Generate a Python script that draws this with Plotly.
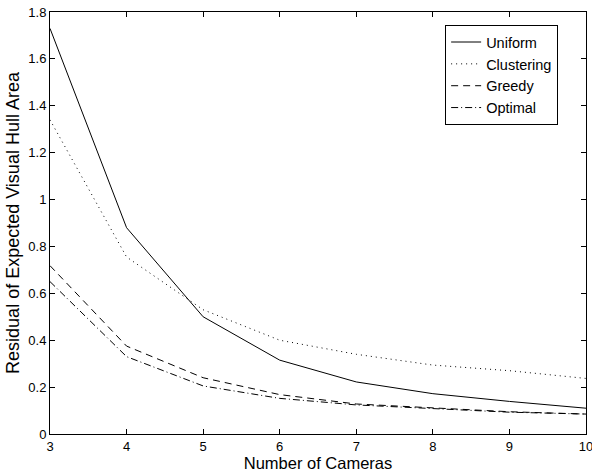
import plotly.graph_objects as go

cameras = [3, 4, 5, 6, 7, 8, 9, 10]
uniform = [1.73, 0.88, 0.50, 0.315, 0.222, 0.172, 0.139, 0.110]
clustering = [1.34, 0.755, 0.53, 0.40, 0.34, 0.294, 0.27, 0.237]
greedy = [0.718, 0.375, 0.24, 0.168, 0.128, 0.11, 0.095, 0.085]
optimal = [0.65, 0.33, 0.205, 0.152, 0.124, 0.107, 0.093, 0.085]

series = [
    ("Uniform", uniform, "solid"),
    ("Clustering", clustering, "1px,4px"),
    ("Greedy", greedy, "7px,5px"),
    ("Optimal", optimal, "7px,3px,1px,3px"),
]

fig = go.Figure()
for name, vals, dash in series:
    fig.add_trace(go.Scatter(
        x=cameras, y=vals, name=name, mode="lines",
        line=dict(color="black", width=1, dash=dash),
    ))

font = "Liberation Sans, Arial, Helvetica, sans-serif"
axis_common = dict(
    showline=True, linecolor="black", linewidth=1, mirror="allticks",
    ticks="inside", ticklen=5, tickcolor="black", showgrid=False,
    zeroline=False, tickfont=dict(family=font, size=13, color="black"),
    ticklabeloverflow="allow", automargin=False,
)
fig.update_xaxes(range=[3, 10], dtick=1, tick0=3,
                 title=dict(text="Number of Cameras", font=dict(family=font, size=16.5, color="black"), standoff=2),
                 **axis_common)
fig.update_yaxes(range=[0, 1.8], dtick=0.2, tick0=0,
                 title=dict(text="Residual of Expected Visual Hull Area", font=dict(family=font, size=18, color="black"), standoff=4),
                 **axis_common)

fig.update_layout(
    width=592, height=475,
    margin=dict(l=50, r=6, t=12, b=41),
    paper_bgcolor="white", plot_bgcolor="white",
    font=dict(family=font, size=13, color="black"),
    legend=dict(
        x=0.948, y=0.969, xanchor="right", yanchor="top",
        bordercolor="black", borderwidth=1, bgcolor="white",
        font=dict(family=font, size=14.5, color="black"),
        tracegroupgap=0, itemwidth=30,
    ),
)

fig.write_html("out.html")
